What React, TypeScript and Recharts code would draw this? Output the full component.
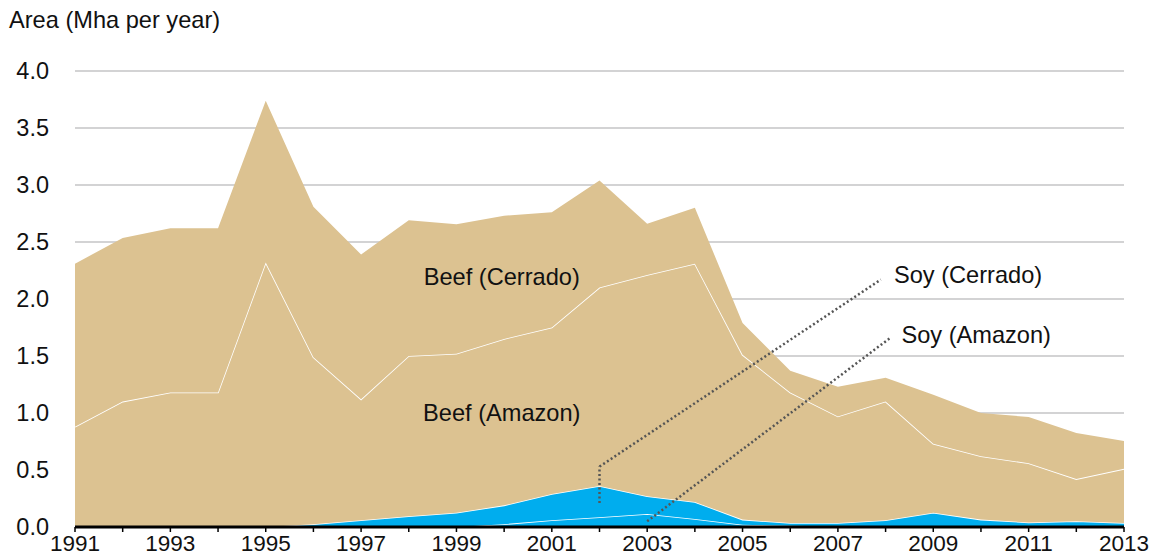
import {
  AreaChart,
  Area,
  XAxis,
  YAxis,
  CartesianGrid,
  ReferenceLine,
  ReferenceDot,
} from "recharts"

const years = [
  1991, 1992, 1993, 1994, 1995, 1996, 1997, 1998, 1999, 2000, 2001, 2002,
  2003, 2004, 2005, 2006, 2007, 2008, 2009, 2010, 2011, 2012, 2013,
]

// Mha per year, stacked bottom to top
const soyAmazon = [
  0, 0, 0, 0, 0, 0, 0, 0, 0, 0.025, 0.06, 0.085, 0.115, 0.07, 0.02, 0.01,
  0.005, 0.005, 0.005, 0.005, 0.005, 0.005, 0.005,
]
const soyCerrado = [
  0, 0, 0, 0, 0, 0.025, 0.06, 0.095, 0.125, 0.165, 0.23, 0.275, 0.155, 0.15,
  0.045, 0.025, 0.03, 0.055, 0.12, 0.06, 0.035, 0.045, 0.03,
]
const beefAmazon = [
  0.88, 1.1, 1.18, 1.18, 2.32, 1.465, 1.06, 1.405, 1.395, 1.46, 1.46, 1.74,
  1.94, 2.09, 1.445, 1.145, 0.935, 1.04, 0.605, 0.555, 0.52, 0.37, 0.475,
]
const beefCerrado = [
  1.43, 1.435, 1.44, 1.44, 1.42, 1.32, 1.27, 1.19, 1.135, 1.08, 1.01, 0.94,
  0.45, 0.49, 0.28, 0.19, 0.26, 0.21, 0.43, 0.38, 0.405, 0.405, 0.245,
]

const yTicks = [0, 0.5, 1, 1.5, 2, 2.5, 3, 3.5, 4]

const areaLabels = [
  { text: "Beef (Cerrado)", year: 1999.95, value: 2.2 },
  { text: "Beef (Amazon)", year: 1999.95, value: 1.0 },
  { text: "Soy (Cerrado)", year: 2009.73, value: 2.21 },
  { text: "Soy (Amazon)", year: 2009.9, value: 1.69 },
]

// dotted leader lines, in data coordinates
const leaders = [
  [
    { x: 2002, y: 0.21 },
    { x: 2002, y: 0.53 },
  ],
  [
    { x: 2002, y: 0.53 },
    { x: 2007.9, y: 2.17 },
  ],
  [
    { x: 2003, y: 0.05 },
    { x: 2008.1, y: 1.66 },
  ],
]

const data = years.map((year, i) => ({
  year,
  soyAmazon: soyAmazon[i],
  soyCerrado: soyCerrado[i],
  beefAmazon: beefAmazon[i],
  beefCerrado: beefCerrado[i],
}))

const FONT = "'Liberation Sans', Arial, Helvetica, sans-serif"
const TAN = "#dcc291"
const BLUE = "#00adee"

export default function App() {
  return (
    <div
      style={{
        position: "absolute",
        left: 0,
        top: 0,
        width: 1156,
        height: 560,
        background: "#fff",
        fontFamily: FONT,
      }}
    >
      <div
        style={{
          position: "absolute",
          left: 9,
          top: 7,
          fontSize: 23.6,
          color: "#111",
          lineHeight: "26px",
        }}
      >
        Area (Mha per year)
      </div>
      <AreaChart
        width={1156}
        height={560}
        data={data}
        margin={{ top: 71, right: 32, left: 15, bottom: 3 }}
      >
        <CartesianGrid
          horizontal
          vertical={false}
          stroke="#c4c4c6"
          strokeWidth={1.5}
        />
        <XAxis
          dataKey="year"
          type="number"
          domain={[1991, 2013]}
          ticks={years}
          interval={0}
          height={30}
          tickFormatter={(v) => (v % 2 === 1 ? String(v) : "")}
          axisLine={{ stroke: "#000", strokeWidth: 3 }}
          tickLine={{ stroke: "#000", strokeWidth: 1.5 }}
          tickSize={5}
          tickMargin={3}
          tick={{ fontSize: 22.5, fill: "#111", fontFamily: FONT }}
        />
        <YAxis
          domain={[0, 4]}
          ticks={yTicks}
          width={60}
          axisLine={false}
          tickLine={false}
          tickSize={6}
          tickMargin={20}
          tickFormatter={(v) => v.toFixed(1)}
          tick={{ fontSize: 23.5, fill: "#111", fontFamily: FONT }}
        />
        <Area
          type="linear"
          dataKey="soyAmazon"
          stackId="a"
          fill={BLUE}
          fillOpacity={1}
          stroke="#fff"
          strokeWidth={1.6}
          isAnimationActive={false}
        />
        <Area
          type="linear"
          dataKey="soyCerrado"
          stackId="a"
          fill={BLUE}
          fillOpacity={1}
          stroke="#fff"
          strokeWidth={1.6}
          isAnimationActive={false}
        />
        <Area
          type="linear"
          dataKey="beefAmazon"
          stackId="a"
          fill={TAN}
          fillOpacity={1}
          stroke="#fff"
          strokeWidth={1.6}
          isAnimationActive={false}
        />
        <Area
          type="linear"
          dataKey="beefCerrado"
          stackId="a"
          fill={TAN}
          fillOpacity={1}
          stroke="none"
          isAnimationActive={false}
        />
        {leaders.map((seg, i) => (
          <ReferenceLine
            key={i}
            segment={seg}
            stroke="#555"
            strokeWidth={2.5}
            strokeDasharray="2 2.5"
          />
        ))}
        {areaLabels.map((l) => (
          <ReferenceDot
            key={l.text}
            x={l.year}
            y={l.value}
            r={0}
            fill="none"
            stroke="none"
            label={{
              value: l.text,
              position: "center",
              fill: "#111",
              fontSize: 23.6,
              fontFamily: FONT,
            }}
          />
        ))}
      </AreaChart>
    </div>
  )
}
